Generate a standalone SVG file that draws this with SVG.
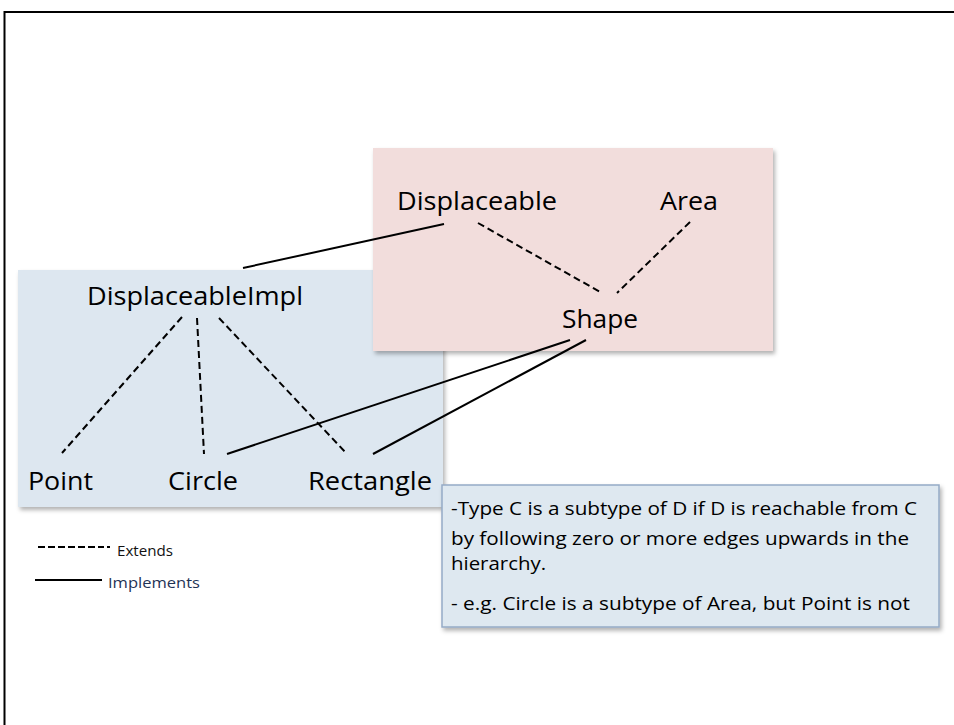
<svg xmlns="http://www.w3.org/2000/svg" width="954" height="725" viewBox="0 0 954 725">
<defs>
<style>
.lbl{font-family:"Open Sans","Liberation Sans",sans-serif;font-size:25px;fill:#000}
.note{font-family:"Open Sans","Liberation Sans",sans-serif;font-size:19px;fill:#000}
.leg{font-family:"Open Sans","Liberation Sans",sans-serif;font-size:14px}
.ext{stroke:#000;stroke-width:2;stroke-dasharray:7 4;fill:none}
.impl{stroke:#000;stroke-width:2;fill:none}
</style>
<filter id="sh" x="-5%" y="-5%" width="110%" height="115%">
<feDropShadow dx="2" dy="3" stdDeviation="2" flood-color="#000" flood-opacity="0.3"/>
</filter>
</defs>
<rect x="0" y="0" width="954" height="725" fill="#fff"/>
<path d="M4.5 725 V12 H954" fill="none" stroke="#000" stroke-width="2"/>

<g id="blue-panel"><rect x="18" y="270" width="425" height="237" fill="#dde7f0" filter="url(#sh)"/></g>
<g id="pink-panel"><rect x="373" y="148" width="400" height="203" fill="#f2dddc" filter="url(#sh)"/></g>

<g id="connectors">
<line class="impl" x1="444" y1="224" x2="243" y2="268"/>
<line class="ext" x1="478" y1="223" x2="602" y2="293"/>
<line class="ext" x1="690" y1="222" x2="617" y2="293"/>
<line class="impl" x1="570" y1="340" x2="227" y2="454"/>
<line class="impl" x1="586" y1="340" x2="373" y2="454"/>
<line class="ext" x1="182" y1="317" x2="62" y2="453"/>
<line class="ext" x1="197" y1="318" x2="204" y2="454"/>
<line class="ext" x1="219" y1="318" x2="347" y2="454"/>
</g>

<g id="node-displaceable"><text class="lbl" x="397" y="210" textLength="160" lengthAdjust="spacingAndGlyphs">Displaceable</text></g>
<g id="node-area"><text class="lbl" x="660" y="210" textLength="58" lengthAdjust="spacingAndGlyphs">Area</text></g>
<g id="node-shape"><text class="lbl" x="562" y="328" textLength="76" lengthAdjust="spacingAndGlyphs">Shape</text></g>
<g id="node-displaceableimpl"><text class="lbl" x="87" y="305" textLength="216" lengthAdjust="spacingAndGlyphs">DisplaceableImpl</text></g>
<g id="node-point"><text class="lbl" x="28" y="490" textLength="65" lengthAdjust="spacingAndGlyphs">Point</text></g>
<g id="node-circle"><text class="lbl" x="168" y="490" textLength="70" lengthAdjust="spacingAndGlyphs">Circle</text></g>
<g id="node-rectangle"><text class="lbl" x="308" y="490" textLength="124" lengthAdjust="spacingAndGlyphs">Rectangle</text></g>

<g id="legend">
<line x1="38" y1="547" x2="104" y2="547" stroke="#000" stroke-width="2" stroke-dasharray="7 3"/>
<line x1="107" y1="547" x2="110" y2="547" stroke="#000" stroke-width="2"/>
<text class="leg" x="117" y="556" fill="#111" textLength="56" lengthAdjust="spacingAndGlyphs">Extends</text>
<line x1="35" y1="580" x2="102" y2="580" stroke="#000" stroke-width="2"/>
<text class="leg" x="108" y="588" fill="#1f3356" textLength="92" lengthAdjust="spacingAndGlyphs">Implements</text>
</g>

<g id="note">
<rect x="442" y="485" width="497" height="142" fill="#dee8f0" stroke="#95abc6" stroke-width="1.5" filter="url(#sh)"/>
<text class="note" x="451" y="515" textLength="466" lengthAdjust="spacingAndGlyphs">-Type C is a subtype of D if D is reachable from C</text>
<text class="note" x="451" y="545" textLength="458" lengthAdjust="spacingAndGlyphs">by following zero or more edges upwards in the</text>
<text class="note" x="451" y="570" textLength="95" lengthAdjust="spacingAndGlyphs">hierarchy.</text>
<text class="note" x="451" y="610" textLength="459" lengthAdjust="spacingAndGlyphs">- e.g. Circle is a subtype of Area, but Point is not</text>
</g>
</svg>
